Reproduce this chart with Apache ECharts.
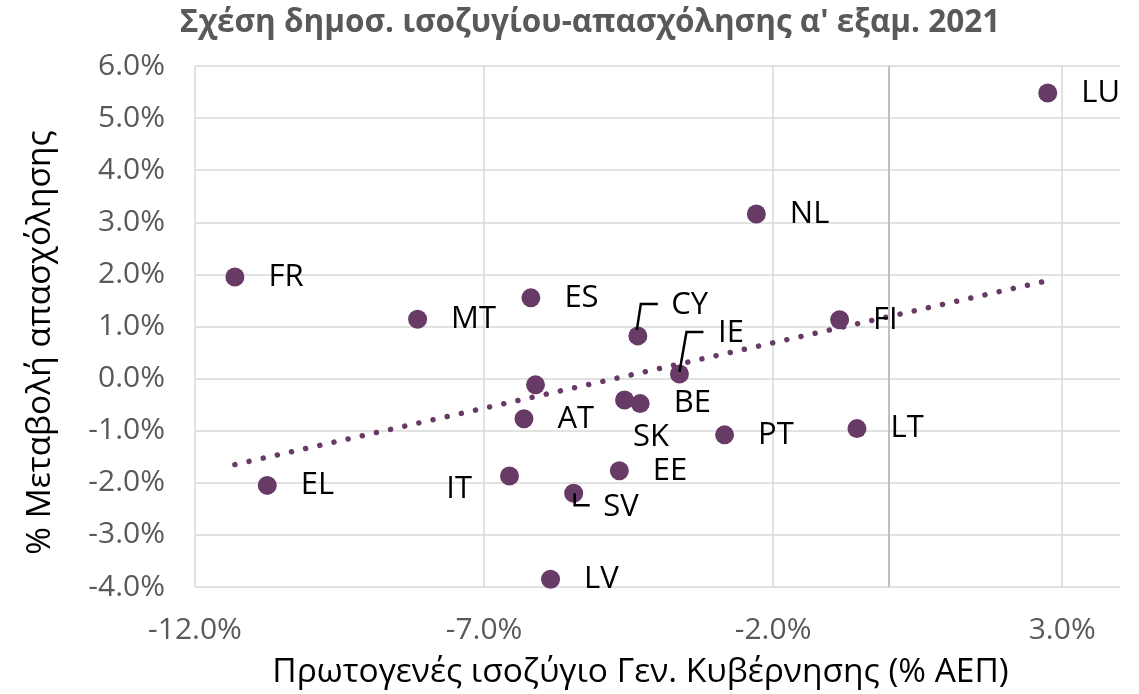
<!DOCTYPE html>
<html>
<head>
<meta charset="utf-8">
<script src="https://cdn.jsdelivr.net/npm/echarts@6/dist/echarts.min.js"></script>
<style>
  html, body { margin: 0; padding: 0; background: #fff; }
  #scatter { width: 1139px; height: 694px; }
</style>
</head>
<body>
<div id="scatter"></div>
<script>
// country codes, primary balance (% GDP, x) and employment change (%, y)
const countries = ['LU', 'NL', 'FR', 'MT', 'ES', 'CY', 'FI', 'IE', '', 'SK', 'BE', 'AT', 'PT', 'LT', 'EE', 'IT', 'SV', 'EL', 'LV'];
const balance = [2.75, -2.29, -11.31, -8.15, -6.19, -4.34, -0.85, -3.62, -6.11, -4.57, -4.30, -6.31, -2.84, -0.55, -4.66, -6.56, -5.45, -10.75, -5.85];
const employment = [5.48, 3.16, 1.95, 1.14, 1.55, 0.82, 1.13, 0.09, -0.12, -0.41, -0.48, -0.77, -1.08, -0.96, -1.77, -1.87, -2.20, -2.05, -3.85];

// linear trend line ends
const trendX = [-11.31, 2.75];
const trendY = [-1.65, 1.88];

// tick labels
const xTicks = [-12, -7, -2, 3];
const yTicks = [-4, -3, -2, -1, 0, 1, 2, 3, 4, 5, 6];

const purple = '#683a66';
const font = 'Open Sans';

// label moves (px) for the crowded points, with elbow leader lines
const labelMove = {
  CY: { dx: 0, dy: -31, guide: [[-1, -6], [3, -32], [20, -32]] },
  IE: { dx: 5, dy: -41, guide: [[0, -2], [7, -42], [24, -42]] },
  SK: { dx: -25, dy: 37 },
  IT: { dx: 0, dy: 13 },
  SV: { dx: -4, dy: 14, guide: [[1, 0], [1, 12], [16, 12]] }
};

const chart = echarts.init(document.getElementById('scatter'));

const points = countries.map(function (c, i) {
  const item = { name: c, value: [balance[i], employment[i]] };
  if (c === '') item.label = { show: false };
  if (c === 'IT') item.label = { position: 'left', distance: 28 };
  return item;
});

const guided = [];
countries.forEach(function (c, i) {
  if (labelMove[c] && labelMove[c].guide) guided.push([balance[i], employment[i], c]);
});

chart.setOption({
  animation: false,
  title: {
    text: "Σχέση δημοσ. ισοζυγίου-απασχόλησης α' εξαμ. 2021",
    left: 585,
    top: 2,
    textAlign: 'center',
    textStyle: { fontFamily: font, fontWeight: 'bold', fontSize: 31.5, color: '#595959' }
  },
  grid: { left: 195, right: 19, top: 66, bottom: 107 },
  xAxis: {
    type: 'value',
    min: -12,
    max: 4,
    interval: 5,
    name: 'Πρωτογενές ισοζύγιο Γεν. Κυβέρνησης (% ΑΕΠ)',
    nameLocation: 'middle',
    nameGap: 68,
    nameTextStyle: { fontFamily: font, fontSize: 33.5, color: '#000', padding: [0, 34, 0, 0] },
    axisLine: { show: false },
    axisTick: { show: false },
    axisLabel: {
      fontFamily: font, fontSize: 30, color: '#595959', margin: 28,
      formatter: function (v) { return xTicks.indexOf(v) >= 0 ? v.toFixed(1) + '%' : ''; }
    },
    splitLine: {
      lineStyle: { color: ['#d9d9d9', '#d9d9d9', '#d9d9d9', '#d9d9d9', 'rgba(0,0,0,0)'], width: 1.5 }
    }
  },
  yAxis: {
    type: 'value',
    min: -4,
    max: 6,
    interval: 1,
    name: '% Μεταβολή απασχόλησης',
    nameLocation: 'middle',
    nameGap: 138,
    nameRotate: 90,
    nameTextStyle: { fontFamily: font, fontSize: 33.5, color: '#000', padding: [0, 32, 0, 0] },
    axisLine: { show: false },
    axisTick: { show: false },
    axisLabel: {
      fontFamily: font, fontSize: 30, color: '#595959', margin: 30,
      formatter: function (v) { return yTicks.indexOf(v) >= 0 ? v.toFixed(1) + '%' : ''; }
    },
    splitLine: { lineStyle: { color: '#d9d9d9', width: 1.5 } }
  },
  series: [
    {
      type: 'line',
      data: trendX.map(function (x, i) { return [x, trendY[i]]; }),
      symbol: 'none',
      z: 1,
      lineStyle: { color: purple, width: 5.5, type: [0.01, 14.5], cap: 'round' }
    },
    {
      type: 'scatter',
      data: points,
      symbolSize: 19,
      z: 3,
      itemStyle: { color: purple, opacity: 1 },
      label: {
        show: true,
        position: 'right',
        distance: 24,
        formatter: '{b}',
        fontFamily: font,
        fontSize: 31,
        color: '#000',
        offset: [0, 2]
      },
      labelLayout: function (p) {
        const m = labelMove[countries[p.dataIndex]];
        return m ? { dx: m.dx, dy: m.dy } : {};
      },
      markLine: {
        silent: true,
        symbol: 'none',
        label: { show: false },
        lineStyle: { color: '#bfbfbf', type: 'solid', width: 2 },
        data: [{ xAxis: 0 }]
      }
    },
    {
      type: 'custom',
      data: guided,
      z: 5,
      silent: true,
      renderItem: function (params, api) {
        const p = api.coord([api.value(0), api.value(1)]);
        const g = labelMove[guided[params.dataIndex][2]].guide;
        return {
          type: 'polyline',
          shape: { points: g.map(function (o) { return [p[0] + o[0], p[1] + o[1]]; }) },
          style: { stroke: '#000', lineWidth: 2.5, fill: null }
        };
      }
    }
  ]
});
</script>
</body>
</html>
